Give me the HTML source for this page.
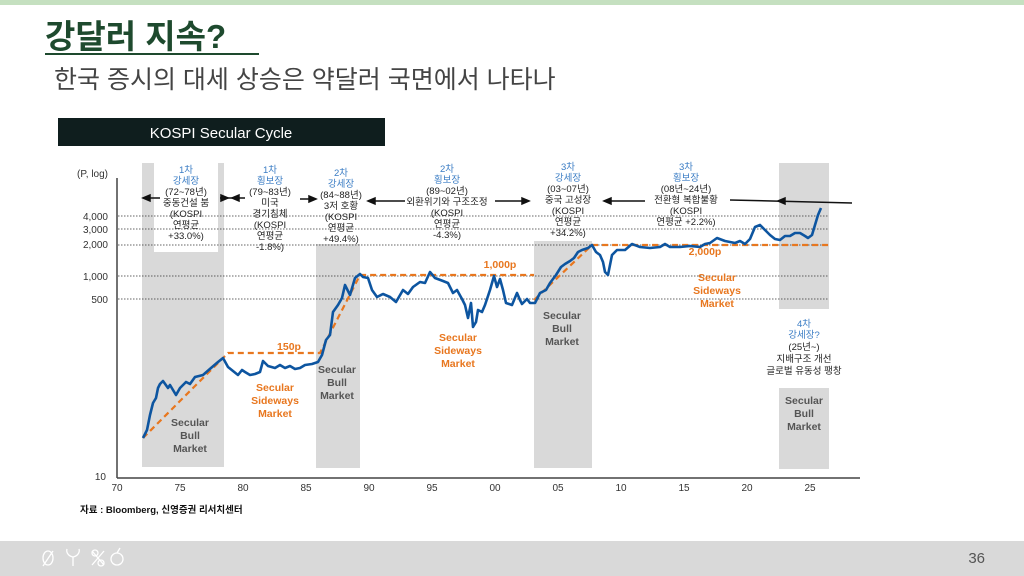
<!DOCTYPE html>
<html><head><meta charset="utf-8"><style>
body{margin:0;width:1024px;height:576px;overflow:hidden;background:#fff;font-family:"Liberation Sans","Noto Sans CJK KR",sans-serif;}
svg{position:absolute;left:0;top:0}
</style></head><body>
<svg width="1024" height="576" viewBox="0 0 1024 576" font-family="Liberation Sans, Noto Sans CJK KR, sans-serif">
<rect x="0" y="0" width="1024" height="5" fill="#c5e0c0"/>
<text x="45" y="48" font-size="33" font-weight="bold" fill="#1e4a2e">강달러 지속?</text>
<rect x="45" y="53" width="214" height="2" fill="#1e4a2e"/>
<text x="54" y="88" font-size="25" fill="#444">한국 증시의 대세 상승은 약달러 국면에서 나타나</text>
<rect x="58" y="118" width="327" height="28" fill="#0f1e1e"/>
<text x="221" y="138" font-size="15" fill="#fff" text-anchor="middle">KOSPI Secular Cycle</text>

<!-- bands -->
<g fill="#d9d9d9">
<rect x="142" y="163" width="82" height="304"/>
<rect x="316" y="244" width="44" height="224"/>
<rect x="534" y="241" width="58" height="227"/>
<rect x="779" y="163" width="50" height="146"/>
<rect x="779" y="388" width="50" height="81"/>
</g>
<rect x="154" y="163" width="64" height="89" fill="#fff"/>
<rect x="536" y="163" width="54" height="78" fill="#fff"/>

<!-- gridlines -->
<g stroke="#333" stroke-width="0.8" stroke-dasharray="1.5,1.5">
<line x1="118" y1="216" x2="829" y2="216"/>
<line x1="118" y1="229" x2="829" y2="229"/>
<line x1="118" y1="245" x2="829" y2="245"/>
<line x1="118" y1="276" x2="829" y2="276"/>
<line x1="118" y1="299" x2="829" y2="299"/>
</g>
<!-- axes -->
<line x1="117" y1="178" x2="117" y2="478" stroke="#444" stroke-width="1.5"/>
<line x1="117" y1="478" x2="860" y2="478" stroke="#444" stroke-width="1.5"/>
<g font-size="10" fill="#333" text-anchor="end">
<text x="108" y="177">(P, log)</text>
<text x="108" y="220">4,000</text>
<text x="108" y="233">3,000</text>
<text x="108" y="248">2,000</text>
<text x="108" y="280">1,000</text>
<text x="108" y="303">500</text>
<text x="106" y="480">10</text>
</g>
<g font-size="10" fill="#333" text-anchor="middle">
<text x="117" y="491">70</text><text x="180" y="491">75</text><text x="243" y="491">80</text><text x="306" y="491">85</text><text x="369" y="491">90</text><text x="432" y="491">95</text><text x="495" y="491">00</text><text x="558" y="491">05</text><text x="621" y="491">10</text><text x="684" y="491">15</text><text x="747" y="491">20</text><text x="810" y="491">25</text>
</g>

<!-- orange dashed trend -->
<polyline fill="none" stroke="#e8771f" stroke-width="2.2" stroke-dasharray="6,4" points="143,438 228,353 320,353 360,275 534,275"/>
<polyline fill="none" stroke="#e8771f" stroke-width="2.2" stroke-dasharray="6,4" points="534,300 592,245 829,245"/>

<!-- KOSPI -->
<polyline fill="none" stroke="#0d55a0" stroke-width="2.6" stroke-linejoin="round" points="143,438 147,430 150,415 153,403 156,398 158,388 160,384 163,381 168,388 170,385 176,395 180,388 186,382 190,384 195,377 203,375 211,368 218,362 223,358 228,367 233,371 238,375 242,370 245,372 250,375 255,374 260,372 263,361 268,366 275,368 280,365 285,368 290,366 295,369 300,368 305,365 312,364 318,362 322,355 326,340 330,335 333,312 338,305 342,298 345,285 350,295 355,278 360,274 363,277 368,278 372,290 377,297 383,294 390,297 396,302 403,290 408,294 413,287 420,282 425,283 430,272 435,278 443,281 448,283 453,293 457,290 462,299 465,305 468,318 471,303 473,327 476,322 478,310 482,312 485,305 490,290 494,276 497,287 500,279 503,290 506,303 512,305 517,293 520,300 522,304 527,299 530,303 535,303 540,293 546,290 550,283 556,275 561,267 565,264 570,261 574,258 578,252 582,250 588,248 592,245 596,252 600,255 603,262 605,272 608,275 612,255 617,250 625,250 632,244 640,247 650,248 660,247 665,244 670,247 680,247 690,246 700,247 705,244 710,243 717,238 725,241 735,243 740,241 745,244 750,239 755,227 760,225 765,230 770,235 775,239 780,240 785,236 790,236 795,233 800,233 805,236 808,238 812,235 815,225 818,215 821,208"/>

<!-- arrows -->
<g stroke="#111" stroke-width="1.5" fill="#111">
<line x1="147" y1="198" x2="160" y2="198"/><polygon points="143,198 150,195 150,201"/>
<line x1="220" y1="198" x2="245" y2="198"/><polygon points="228,198 221,195 221,201"/><polygon points="232,198 239,195 239,201"/>
<line x1="300" y1="199" x2="312" y2="199"/><polygon points="316,199 309,196 309,202"/>
<line x1="372" y1="201" x2="405" y2="201"/><polygon points="368,201 375,198 375,204"/>
<line x1="495" y1="201" x2="525" y2="201"/><polygon points="529,201 522,198 522,204"/>
<line x1="608" y1="201" x2="645" y2="201"/><polygon points="604,201 611,198 611,204"/>
<line x1="730" y1="200" x2="852" y2="203"/><polygon points="778,201 785,198 785,204"/>
</g>

<!-- annotations -->
<g font-size="9.5" text-anchor="middle" fill="#222">
<text x="186" y="173" fill="#3a7cc4">1차</text><text x="186" y="184" fill="#3a7cc4">강세장</text>
<text x="186" y="195">(72~78년)</text><text x="186" y="206">중동건설 붐</text><text x="186" y="217">(KOSPI</text><text x="186" y="228">연평균</text><text x="186" y="239">+33.0%)</text>
<text x="270" y="173" fill="#3a7cc4">1차</text><text x="270" y="184" fill="#3a7cc4">횡보장</text>
<text x="270" y="195">(79~83년)</text><text x="270" y="206">미국</text><text x="270" y="217">경기침체</text><text x="270" y="228">(KOSPI</text><text x="270" y="239">연평균</text><text x="270" y="250">-1.8%)</text>
<text x="341" y="176" fill="#3a7cc4">2차</text><text x="341" y="187" fill="#3a7cc4">강세장</text>
<text x="341" y="198">(84~88년)</text><text x="341" y="209">3저 호황</text><text x="341" y="220">(KOSPI</text><text x="341" y="231">연평균</text><text x="341" y="242">+49.4%)</text>
<text x="447" y="172" fill="#3a7cc4">2차</text><text x="447" y="183" fill="#3a7cc4">횡보장</text>
<text x="447" y="194">(89~02년)</text><text x="447" y="205">외환위기와 구조조정</text><text x="447" y="216">(KOSPI</text><text x="447" y="227">연평균</text><text x="447" y="238">-4.3%)</text>
<text x="568" y="170" fill="#3a7cc4">3차</text><text x="568" y="181" fill="#3a7cc4">강세장</text>
<text x="568" y="192">(03~07년)</text><text x="568" y="203">중국 고성장</text><text x="568" y="214">(KOSPI</text><text x="568" y="225">연평균</text><text x="568" y="236">+34.2%)</text>
<text x="686" y="170" fill="#3a7cc4">3차</text><text x="686" y="181" fill="#3a7cc4">횡보장</text>
<text x="686" y="192">(08년~24년)</text><text x="686" y="203">전환형 복합불황</text><text x="686" y="214">(KOSPI</text><text x="686" y="225">연평균  +2.2%)</text>
<text x="804" y="327" fill="#3a7cc4">4차</text><text x="804" y="338" fill="#3a7cc4">강세장?</text>
<text x="804" y="350">(25년~)</text><text x="804" y="362">지배구조 개선</text><text x="804" y="374">글로벌 유동성 팽창</text>
</g>
<g font-size="10.5" font-weight="bold" text-anchor="middle" fill="#555">
<text x="190" y="426">Secular</text><text x="190" y="439">Bull</text><text x="190" y="452">Market</text>
<text x="337" y="373">Secular</text><text x="337" y="386">Bull</text><text x="337" y="399">Market</text>
<text x="562" y="319">Secular</text><text x="562" y="332">Bull</text><text x="562" y="345">Market</text>
<text x="804" y="404">Secular</text><text x="804" y="417">Bull</text><text x="804" y="430">Market</text>
</g>
<g font-size="10.5" font-weight="bold" text-anchor="middle" fill="#e8771f">
<text x="275" y="391">Secular</text><text x="275" y="404">Sideways</text><text x="275" y="417">Market</text>
<text x="458" y="341">Secular</text><text x="458" y="354">Sideways</text><text x="458" y="367">Market</text>
<text x="717" y="281">Secular</text><text x="717" y="294">Sideways</text><text x="717" y="307">Market</text>
<text x="289" y="350">150p</text>
<text x="500" y="268">1,000p</text>
<text x="705" y="255">2,000p</text>
</g>
<text x="80" y="513" font-size="9.5" font-weight="bold" fill="#111">자료 : Bloomberg, 신영증권 리서치센터</text>

<rect x="0" y="541" width="1024" height="35" fill="#d9d9d9"/>
<g fill="none" stroke="#fff" stroke-width="1.3">
<ellipse cx="48" cy="558" rx="5" ry="7"/><line x1="43" y1="566" x2="53" y2="551"/>
<path d="M73 566 V557 M73 557 C68 556 66 552 67 549 M73 557 C78 556 80 552 79 549"/>
<path d="M92 551 L104 565 M104 551 L92 565"/><circle cx="95" cy="553" r="3"/><circle cx="101" cy="563" r="3"/>
<circle cx="117" cy="559" r="6"/><path d="M117 553 L120 548"/>
</g>
<text x="985" y="563" font-size="15" fill="#555" text-anchor="end">36</text>
</svg>
</body></html>
